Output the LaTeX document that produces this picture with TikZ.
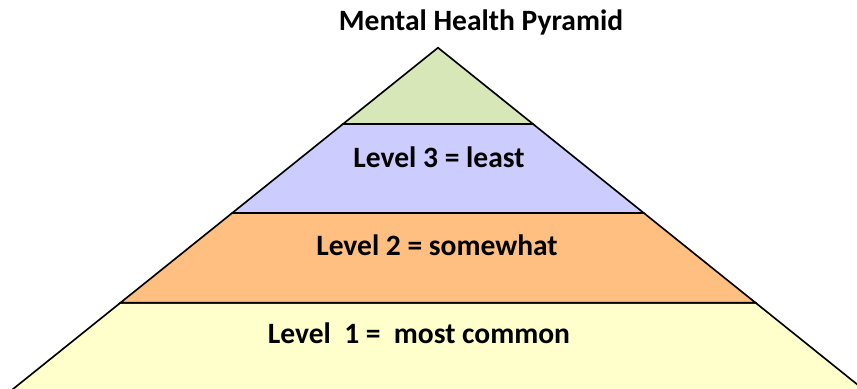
\documentclass[tikz,border=0pt]{standalone}
\usepackage{fontspec}
\setmainfont{Carlito}
\definecolor{topgreen}{HTML}{D7E7B8}
\definecolor{levelthree}{HTML}{CCCCFF}
\definecolor{leveltwo}{HTML}{FFBF80}
\definecolor{levelone}{HTML}{FFFFCC}
\tikzstyle{layer} = [draw=black, line width=1.4pt, line join=miter]
\tikzstyle{leveltext} = [font=\fontsize{25.2}{29}\selectfont\bfseries, text=black, inner sep=0pt]
\begin{document}
\begin{tikzpicture}[x=0.03cm, y=-0.03cm]
		\useasboundingbox (0,0) rectangle (857,389);
		\clip (0,0) rectangle (857,389);
		% pyramid layers, bottom first
		\path [layer, fill=levelone] (120.5,302.7) -- (755.5,302.7) -- (870.4,395) -- (5.6,395) -- cycle;
		\path [layer, fill=leveltwo] (232.2,213) -- (643.8,213) -- (755.5,302.7) -- (120.5,302.7) -- cycle;
		\path [layer, fill=levelthree] (343,124) -- (533,124) -- (643.8,213) -- (232.2,213) -- cycle;
		\path [layer, fill=topgreen] (438,47.7) -- (533,124) -- (343,124) -- cycle;
		% texts
		\node (title) [leveltext] at (481,22) {Mental Health Pyramid};
		\node (l3) [leveltext] at (439,157) {Level 3 = least};
		\node (l2) [leveltext] at (437,245) {Level 2 = somewhat};
		\node (l1) [leveltext] at (419,333) {Level\ \ 1 =\ \ most common};
\end{tikzpicture}
\end{document}
